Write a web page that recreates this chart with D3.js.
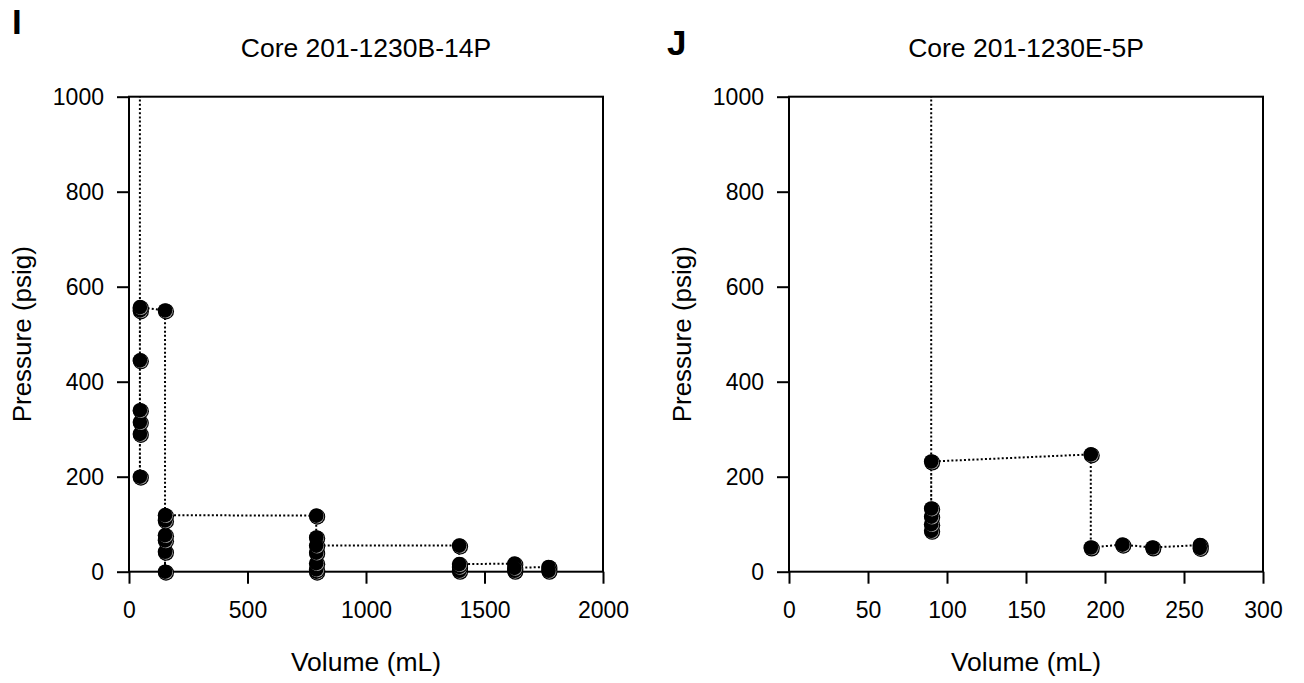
<!DOCTYPE html>
<html><head><meta charset="utf-8">
<script src="https://cdn.jsdelivr.net/npm/d3@7"></script>
<style>
body{margin:0;background:#fff}
svg{display:block}
text{font-family:"Liberation Sans",Arial,Helvetica,sans-serif;fill:#000}
</style>
</head><body>
<svg id="chart" width="1304" height="683"></svg>
<script>
// ---- data ----
const panelLetters = ["I", "J"];
const panelTitles = ["Core 201-1230B-14P", "Core 201-1230E-5P"];
const xLabel = "Volume (mL)";
const yLabel = "Pressure (psig)";
const xTicksB = [0, 500, 1000, 1500, 2000];
const xTicksE = [0, 50, 100, 150, 200, 250, 300];
const yTicks = [0, 200, 400, 600, 800, 1000];
const xMaxB = 2000, xMaxE = 300, yMax = 1000;

// Core 201-1230B-14P, measurements in order (first value is off-scale initial pressure)
const volumeB   = [46, 46, 46, 46, 46, 46, 46, 46, 152, 152, 152, 152, 152, 152, 152, 790, 790, 790, 790, 790, 790, 790, 1393, 1393, 1393, 1393, 1626, 1626, 1626, 1770, 1770];
const pressureB = [1100, 200, 290, 315, 340, 445, 550, 557, 550, 0, 42, 66, 77, 108, 119, 118, 0, 5, 18, 40, 72, 55, 55, 2, 10, 16, 17, 2, 8, 10, 2];

// Core 201-1230E-5P
const volumeE   = [90, 90, 90, 90, 90, 90, 191, 191, 211, 230, 260, 260];
const pressureE = [1100, 86, 100, 116, 133, 232, 247, 51, 57, 51, 56, 50];

// ---- layout ----
const svg = d3.select("#chart");
const panels = [
  {letter: panelLetters[0], title: panelTitles[0], vol: volumeB, pres: pressureB, xMax: xMaxB, xTicks: xTicksB,
   left: 129, right: 603, letterX: 12, letterY: 34, yLabelX: 31},
  {letter: panelLetters[1], title: panelTitles[1], vol: volumeE, pres: pressureE, xMax: xMaxE, xTicks: xTicksE,
   left: 789, right: 1263, letterX: 667, letterY: 55, yLabelX: 691}
];
const plotTop = 96.7, plotBottom = 571.7;
const fmt = d3.format("d");

panels.forEach((p, i) => {
  const x = d3.scaleLinear().domain([0, p.xMax]).range([p.left, p.right]);
  const y = d3.scaleLinear().domain([0, yMax]).range([plotBottom, plotTop]);
  const g = svg.append("g");

  const clipId = "clip" + i;
  svg.append("clipPath").attr("id", clipId).append("rect")
    .attr("x", p.left).attr("y", plotTop).attr("width", p.right - p.left).attr("height", plotBottom - plotTop);

  // axes
  const xa = g.append("g").attr("transform", `translate(0,${plotBottom})`)
    .call(d3.axisBottom(x).tickValues(p.xTicks).tickFormat(fmt).tickSize(12).tickPadding(18).tickSizeOuter(0));
  const ya = g.append("g").attr("transform", `translate(${p.left},0)`)
    .call(d3.axisLeft(y).tickValues(yTicks).tickFormat(fmt).tickSize(12).tickPadding(13).tickSizeOuter(0));
  [xa, ya].forEach(a => {
    a.select(".domain").remove();
    a.selectAll(".tick line").attr("stroke", "#000").attr("stroke-width", 2);
    a.selectAll(".tick text").attr("font-size", 23).attr("font-family", "'Liberation Sans',Arial,sans-serif").attr("fill", "#000");
  });

  // frame
  g.append("rect").attr("x", p.left).attr("y", plotTop).attr("width", p.right - p.left).attr("height", plotBottom - plotTop)
    .attr("fill", "none").attr("stroke", "#000").attr("stroke-width", 2);

  // dotted connecting line
  const pts = p.vol.map((v, k) => [v, p.pres[k]]);
  g.append("path").attr("clip-path", `url(#${clipId})`)
    .attr("d", d3.line().x(d => x(d[0])).y(d => y(d[1]))(pts))
    .attr("fill", "none").attr("stroke", "#000").attr("stroke-width", 2).attr("stroke-dasharray", "2,2.2");

  // markers (only on-scale values)
  const on = pts.filter(d => d[1] <= yMax);
  const m = g.append("g").selectAll("g").data(on).join("g")
    .attr("transform", d => `translate(${x(d[0])},${y(d[1])})`);
  m.append("circle").attr("cx", 1).attr("cy", 1).attr("r", 8).attr("fill", "#000");
  m.append("circle").attr("cx", 0.9).attr("cy", 0.9).attr("r", 7).attr("fill", "#a0a0a0");
  m.append("circle").attr("cx", 0).attr("cy", 0).attr("r", 7.3).attr("fill", "#000");

  // titles
  const cx = (p.left + p.right) / 2;
  svg.append("text").attr("x", cx).attr("y", 57).attr("text-anchor", "middle").attr("font-size", 26.5).text(p.title);
  svg.append("text").attr("x", cx).attr("y", 671).attr("text-anchor", "middle").attr("font-size", 26.5).text(xLabel);
  svg.append("text").attr("transform", `translate(${p.yLabelX},${(plotTop + plotBottom) / 2}) rotate(-90)`)
    .attr("text-anchor", "middle").attr("font-size", 26).text(yLabel);
  svg.append("text").attr("x", p.letterX).attr("y", p.letterY).attr("font-size", 35).attr("font-weight", "bold").text(p.letter);
});
</script>
</body></html>
